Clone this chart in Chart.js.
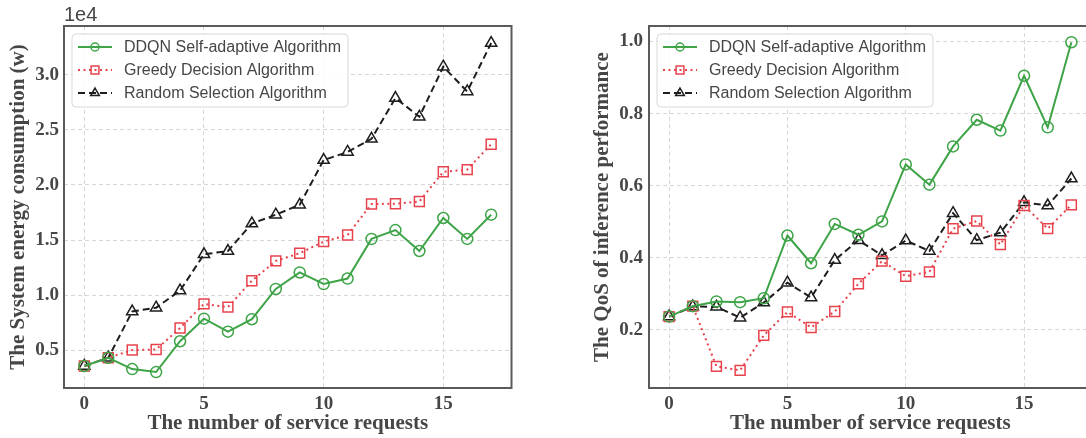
<!DOCTYPE html>
<html>
<head>
<meta charset="utf-8">
<script src="https://cdn.jsdelivr.net/npm/chart.js@4.4.0/dist/chart.umd.min.js"></script>
<style>
  body { margin: 0; background: #fff; overflow: hidden; width: 1086px; height: 438px; }
  .box { position: absolute; top: 0; }
</style>
</head>
<body>
<div class="box" style="left:0"><canvas id="energy" width="520" height="438"></canvas></div>
<div class="box" style="left:560px"><canvas id="qos" width="540" height="438"></canvas></div>
<script>
// x values: number of service requests
const requests = [0, 1, 2, 3, 4, 5, 6, 7, 8, 9, 10, 11, 12, 13, 14, 15, 16, 17];
const x_ticks = [0, 5, 10, 15];

// energy consumption (w)
const energy_ddqn = [3550, 4300, 3270, 3000, 5800, 7850, 6670, 7800, 10550, 12050, 11000, 11500, 15100, 15900, 14000, 17000, 15100, 17300];
const energy_greedy = [3550, 4300, 5000, 5050, 7000, 9200, 8900, 11300, 13100, 13800, 14850, 15450, 18270, 18300, 18500, 21200, 21400, 23700];
const energy_random = [3550, 4300, 8500, 8850, 10400, 13700, 14000, 16500, 17300, 18200, 22270, 23000, 24200, 27900, 26200, 30750, 28500, 32900];
const energy_ticks = [5000, 10000, 15000, 20000, 25000, 30000];

// QoS of inference performance
const qos_ddqn = [0.237, 0.266, 0.279, 0.277, 0.288, 0.462, 0.385, 0.494, 0.464, 0.501, 0.659, 0.603, 0.709, 0.783, 0.753, 0.905, 0.762, 0.998];
const qos_greedy = [0.237, 0.266, 0.099, 0.088, 0.185, 0.250, 0.207, 0.251, 0.328, 0.391, 0.349, 0.361, 0.481, 0.502, 0.437, 0.545, 0.481, 0.547];
const qos_random = [0.237, 0.265, 0.264, 0.234, 0.276, 0.331, 0.290, 0.394, 0.449, 0.407, 0.448, 0.419, 0.524, 0.449, 0.470, 0.554, 0.545, 0.620];
const qos_ticks = [0.2, 0.4, 0.6, 0.8, 1.0];

const names = ['DDQN Self-adaptive Algorithm', 'Greedy Decision Algorithm', 'Random Selection Algorithm'];

const GREEN = '#3ea447';
const RED = '#e8434c';
const BLACK = '#1e1e1e';
const TEXT = '#464646';
const SERIF = '"Liberation Serif", "Times New Roman", serif';
const styles = [
    { color: GREEN, dash: [], marker: 'circle', radius: 5.5, legendRadius: 4 },
    { color: RED, dash: [2, 3.5], marker: 'rect', radius: 7, legendRadius: 5.5 },
    { color: BLACK, dash: [7, 4], marker: 'triangle', radius: 6.5, legendRadius: 5 }
];

function make_dataset(values, i) {
    const s = styles[i];
    return {
        label: names[i],
        data: requests.map((r, k) => ({ x: r, y: values[k] })),
        borderColor: s.color,
        borderWidth: 2,
        borderDash: s.dash,
        pointStyle: s.marker,
        pointRadius: s.radius,
        pointBorderColor: s.color,
        pointBackgroundColor: 'rgba(0,0,0,0)',
        pointBorderWidth: 1.5,
        tension: 0,
        fill: false
    };
}

// frame round the plot, the 1e4 offset text and the legend box
const frame_legend = {
    id: 'frame_legend',
    afterDraw(chart, args, opts) {
        const ctx = chart.ctx;
        const a = chart.chartArea;
        ctx.save();
        ctx.strokeStyle = '#5a5a5a';
        ctx.lineWidth = 2;
        ctx.setLineDash([]);
        ctx.strokeRect(a.left, a.top, a.right - a.left, a.bottom - a.top);

        if (opts.offsetText) {
            ctx.fillStyle = TEXT;
            ctx.font = '20px "Liberation Sans", Arial, sans-serif';
            ctx.textAlign = 'left';
            ctx.textBaseline = 'alphabetic';
            ctx.fillText(opts.offsetText, a.left, a.top - 5);
        }

        ctx.font = '16px "Liberation Sans", Arial, sans-serif';
        const bx = a.left + 8, by = a.top + 8;
        const textX = bx + 52;
        let maxW = 0;
        names.forEach(n => { maxW = Math.max(maxW, ctx.measureText(n).width); });
        const bw = textX - bx + maxW + 7, bh = 73;
        ctx.beginPath();
        ctx.roundRect(bx, by, bw, bh, 4);
        ctx.fillStyle = 'rgba(255,255,255,0.85)';
        ctx.fill();
        ctx.strokeStyle = '#d8d8d8';
        ctx.lineWidth = 1;
        ctx.stroke();

        names.forEach((n, i) => {
            const s = styles[i];
            const y = by + 13 + i * 23;
            ctx.strokeStyle = s.color;
            ctx.lineWidth = 2;
            ctx.setLineDash(s.dash);
            ctx.beginPath();
            ctx.moveTo(bx + 6, y);
            ctx.lineTo(bx + 40, y);
            ctx.stroke();
            ctx.setLineDash([]);
            ctx.lineWidth = 1.5;
            ctx.fillStyle = 'rgba(0,0,0,0)';
            Chart.helpers.drawPoint(ctx, {
                pointStyle: s.marker, radius: s.legendRadius, rotation: 0, borderWidth: 1.5
            }, bx + 23, y);
            ctx.fillStyle = TEXT;
            ctx.textBaseline = 'middle';
            ctx.fillText(n, textX, y + 1);
        });
        ctx.restore();
    }
};

function make_chart(canvas_id, values, y_min, y_max, y_ticks, y_label, y_width, title_pad, tick_pad, fmt, offsetText) {
    const ctx = document.getElementById(canvas_id).getContext('2d');
    return new Chart(ctx, {
        type: 'line',
        data: {
            datasets: values.map((v, i) => make_dataset(v, i))
        },
        options: {
            responsive: false,
            animation: false,
            devicePixelRatio: 1,
            layout: { padding: { top: 26, right: 7, left: 0, bottom: 0 } },
            plugins: {
                legend: { display: false },
                tooltip: { enabled: false },
                frame_legend: { offsetText: offsetText }
            },
            scales: {
                x: {
                    type: 'linear',
                    min: -0.85,
                    max: 17.85,
                    afterBuildTicks: (scale) => { scale.ticks = x_ticks.map(v => ({ value: v })); },
                    afterFit: (scale) => { scale.height = 50; },
                    grid: { color: '#d6d6d6', drawTicks: false },
                    border: { display: false, dash: [4, 3] },
                    ticks: {
                        color: TEXT,
                        padding: 5,
                        maxRotation: 0,
                        font: { family: SERIF, size: 19, weight: 'bold' }
                    },
                    title: {
                        display: true,
                        text: 'The number of service requests',
                        color: TEXT,
                        padding: { top: 0, bottom: 2 },
                        font: { family: SERIF, size: 21, weight: 'bold' }
                    }
                },
                y: {
                    min: y_min,
                    max: y_max,
                    afterBuildTicks: (scale) => { scale.ticks = y_ticks.map(v => ({ value: v })); },
                    afterFit: (scale) => { scale.width = y_width; },
                    grid: { color: '#d6d6d6', drawTicks: false },
                    border: { display: false, dash: [4, 3] },
                    ticks: {
                        color: TEXT,
                        padding: tick_pad,
                        callback: fmt,
                        font: { family: SERIF, size: 19, weight: 'bold' }
                    },
                    title: {
                        display: true,
                        text: y_label,
                        color: TEXT,
                        padding: { top: title_pad, bottom: 0 },
                        font: { family: SERIF, size: 21, weight: 'bold' }
                    }
                }
            }
        },
        plugins: [frame_legend]
    });
}

make_chart('energy', [energy_ddqn, energy_greedy, energy_random], 1550, 34450, energy_ticks,
    'The System energy consumption (w)', 64, 6, 5, (v) => (v / 10000).toFixed(1), '1e4');
make_chart('qos', [qos_ddqn, qos_greedy, qos_random], 0.039, 1.043, qos_ticks,
    'The QoS of inference performance', 89, 30, 6, (v) => v.toFixed(1), '');
</script>
</body>
</html>
